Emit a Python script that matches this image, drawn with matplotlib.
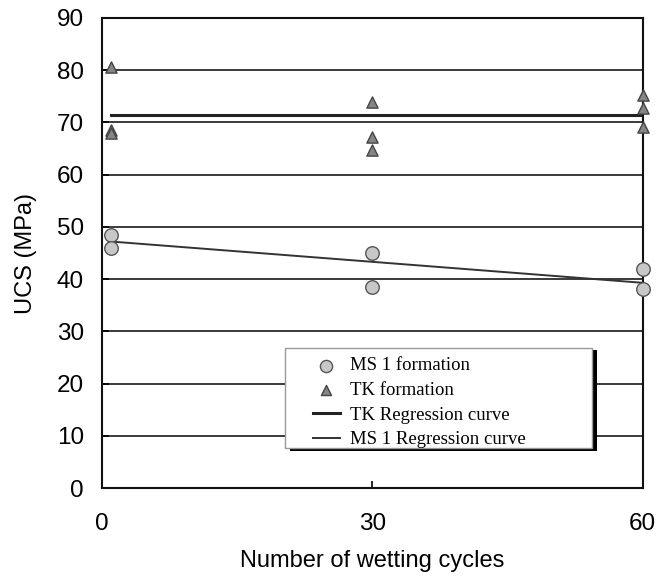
import matplotlib
matplotlib.use('Agg')
import matplotlib.pyplot as plt
from matplotlib.patches import Rectangle

# UCS test results (MPa) against number of wetting-drying cycles
ms1_cycles = [1, 1, 30, 30, 60, 60]
ms1_ucs = [48.4, 46.0, 45.0, 38.5, 41.9, 38.1]

tk_cycles = [1, 1, 1, 30, 30, 30, 60, 60, 60]
tk_ucs = [80.6, 68.6, 68.0, 73.9, 67.2, 64.7, 75.3, 72.8, 69.1]

# regression lines, end points
reg_cycles = [1, 60]
tk_reg = [71.4, 71.4]
ms1_reg = [47.2, 39.3]

fig = plt.figure(figsize=(6.57, 5.77), dpi=100)
ax = fig.add_axes([0.155, 0.154, 0.823, 0.815])

sans = 'Liberation Sans'
serif = 'Liberation Serif'

for y in range(10, 90, 10):
	ax.axhline(y, color='#3a3a3a', lw=1.4, zorder=1)

l_tk, = ax.plot(reg_cycles, tk_reg, '-', color='#222222', lw=2.2, zorder=2)
l_ms, = ax.plot(reg_cycles, ms1_reg, '-', color='#333333', lw=1.4, zorder=2)

p_ms = ax.scatter(ms1_cycles, ms1_ucs, s=95, marker='o', facecolor='#c8c8c8',
	edgecolor='#555555', linewidth=1.0, zorder=4, clip_on=False)
p_tk = ax.scatter(tk_cycles, tk_ucs, s=65, marker='^', facecolor='#858585',
	edgecolor='#444444', linewidth=1.0, zorder=4, clip_on=False)

ax.set_xlim(0, 60)
ax.set_ylim(0, 90)
ax.set_xticks([0, 30, 60])
ax.set_yticks(range(0, 91, 10))
ax.tick_params(direction='in', length=5, width=1.2, labelsize=17.5)
ax.tick_params(axis='x', pad=18)
ax.tick_params(axis='y', pad=13)
for lab in ax.get_xticklabels() + ax.get_yticklabels():
	lab.set_fontfamily(sans)
for s in ax.spines.values():
	s.set_linewidth(1.5)
	s.set_color('#111111')

ax.set_xlabel('Number of wetting cycles', fontsize=17, family=sans, labelpad=11)
ax.set_ylabel('UCS (MPa)', fontsize=17, family=sans, labelpad=14)

# legend box with dark drop shadow
x0, y0, w, h = 0.339, 0.085, 0.568, 0.213
ax.add_patch(Rectangle((x0 + 0.009, y0 - 0.005), w, h, transform=ax.transAxes,
	facecolor='black', edgecolor='none', zorder=5))
ax.add_patch(Rectangle((x0, y0), w, h, transform=ax.transAxes,
	facecolor='white', edgecolor='#999999', lw=1.0, zorder=6))

leg = ax.legend([p_ms, p_tk, l_tk, l_ms],
	['MS 1 formation', 'TK formation', 'TK Regression curve', 'MS 1 Regression curve'],
	loc='upper left', bbox_to_anchor=(0.366, 0.306),
	frameon=False, prop={'family': serif, 'size': 13.5},
	handlelength=1.45, handletextpad=0.55, labelspacing=0.4, borderpad=0.2,
	scatterpoints=1, markerscale=0.9)
leg.set_zorder(7)

fig.savefig('out.png', dpi=100)
